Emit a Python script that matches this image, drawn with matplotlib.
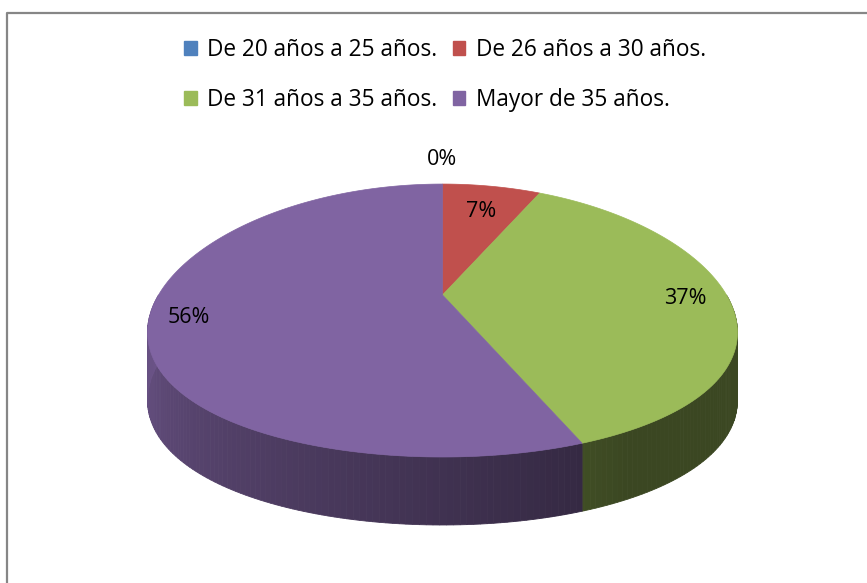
import numpy as np
import matplotlib.pyplot as plt
from matplotlib.patches import Polygon, Patch
import matplotlib.colors as mcolors

# data
labels = ['De 20 años a 25 años.', 'De 26 años a 30 años.',
          'De 31 años a 35 años.', 'Mayor de 35 años.']
values = [0, 7, 37, 56]
pct_labels = ['0%', '7%', '37%', '56%']
colors = ['#4F81BD', '#C0504D', '#9BBB59', '#8064A2']

# geometry of the 3d pie (pixels)
cx, cy = 442.5, 295.0
A, B = 284.0, 131.7
kx, ky = 0.27, 0.187
depth = 68.0
label_r = [1.27, 0.74, 0.85, 0.87]

plt.rcParams['font.family'] = ['Open Sans', 'DejaVu Sans']


def proj(theta, r=1.0, z=0.0):
    # theta in degrees, clockwise from 12 o'clock
    t = np.radians(theta)
    u = r * np.sin(t)
    v = r * np.cos(t)
    x = cx + A * u / (1 + kx * v)
    y = cy - B * v / (1 + ky * v) + z
    return x, y


def shade(theta):
    return np.clip(0.38 + (theta - 150) / 120 * 0.47, 0.38, 0.85)


fig = plt.figure(figsize=(8.67, 5.83), dpi=100)
ax = fig.add_axes([0, 0, 1, 1])
ax.set_xlim(0, 867)
ax.set_ylim(583, 0)
ax.axis('off')

# chart border
ax.plot([7, 7, 900], [700, 13, 13], color='#868686', lw=1.6)

frac = np.array(values, dtype=float) / sum(values)
ends = np.cumsum(frac) * 360
starts = ends - frac * 360

# side walls (front half only)
for s, e, c in zip(starts, ends, colors):
    lo, hi = max(s, 90), min(e, 270)
    if hi <= lo:
        continue
    base = np.array(mcolors.to_rgb(c))
    edges = np.arange(lo, hi, 1.0)
    edges = np.append(edges, hi)
    for t1, t2 in zip(edges[:-1], edges[1:]):
        x1, y1 = proj(t1)
        x2, y2 = proj(t2)
        col = base * shade((t1 + t2) / 2)
        ax.add_patch(Polygon([(x1, y1), (x2, y2), (x2, y2 + depth), (x1, y1 + depth)],
                             closed=True, facecolor=col, edgecolor=col, lw=0.6))

# top face
for s, e, c in zip(starts, ends, colors):
    if e - s <= 0:
        continue
    th = np.linspace(s, e, max(int(e - s) * 2, 2))
    xs, ys = proj(th)
    pts = [(cx, cy)] + list(zip(xs, ys))
    ax.add_patch(Polygon(pts, closed=True, facecolor=c, edgecolor=c, lw=0.5))

# percentage labels
for s, e, txt, r in zip(starts, ends, pct_labels, label_r):
    x, y = proj((s + e) / 2, r)
    ax.text(x, y, txt, ha='center', va='center', fontsize=15.5, color='black')

handles = [Patch(facecolor=c, edgecolor=c) for c in colors]
order = [0, 2, 1, 3]
ax.legend([handles[i] for i in order], [labels[i] for i in order],
          ncol=2, loc='center', bbox_to_anchor=(445 / 867, 1 - 75 / 583),
          frameon=False, fontsize=16.3, handlelength=0.55, handleheight=0.55,
          handletextpad=0.45, columnspacing=0.7, labelspacing=1.15)

fig.savefig('out.png', dpi=100)
